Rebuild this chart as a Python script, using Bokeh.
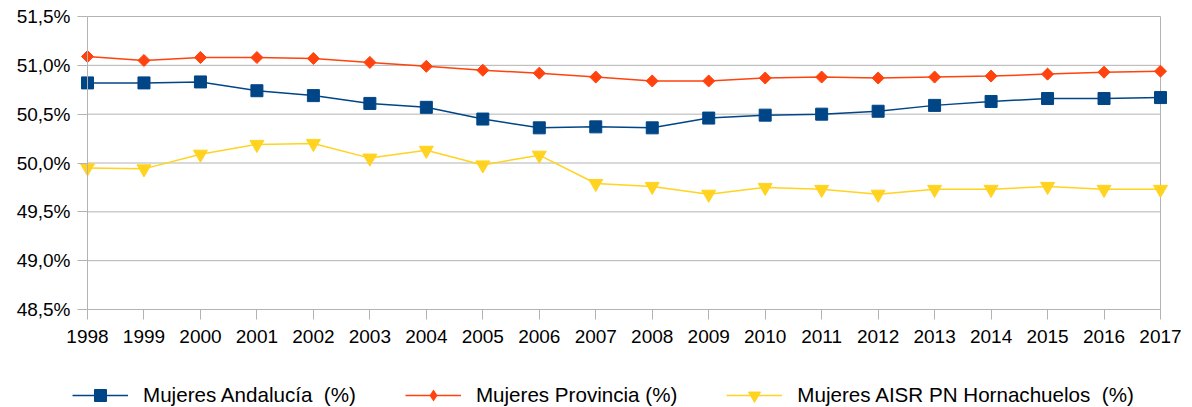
import math
from bokeh.plotting import figure
from bokeh.models import FixedTicker, Legend, LegendItem, Range1d
from bokeh.embed import file_html
from bokeh.resources import INLINE

years = list(range(1998, 2018))
andalucia = [50.82, 50.82, 50.83, 50.74, 50.69, 50.61, 50.57, 50.45, 50.36, 50.37,
             50.36, 50.46, 50.49, 50.50, 50.53, 50.59, 50.63, 50.66, 50.66, 50.67]
provincia = [51.09, 51.05, 51.08, 51.08, 51.07, 51.03, 50.99, 50.95, 50.92, 50.88,
             50.84, 50.84, 50.87, 50.88, 50.87, 50.88, 50.89, 50.91, 50.93, 50.94]
aisr = [49.95, 49.94, 50.09, 50.19, 50.20, 50.05, 50.13, 49.98, 50.08, 49.79,
        49.76, 49.68, 49.75, 49.73, 49.68, 49.73, 49.73, 49.76, 49.73, 49.73]
y_ticks = [48.5, 49.0, 49.5, 50.0, 50.5, 51.0, 51.5]
y_tick_labels = ["48,5%", "49,0%", "49,5%", "50,0%", "50,5%", "51,0%", "51,5%"]
series_names = ["Mujeres Andalucía  (%)", "Mujeres Provincia (%)", "Mujeres AISR PN Hornachuelos  (%)"]

FONT = "Liberation Sans"
GRID = "#b3b3b3"

# Layout (pixels): plot area spans x 87..1160, y 16..309 in a 1192x407 canvas
W, H = 1192, 407
PL, PR, PT, PB = 87, 1160, 16, 309
x0, x1 = years[0], years[-1]
y0, y1 = y_ticks[0], y_ticks[-1]
xppu = (PR - PL) / (x1 - x0)
yppu = (PB - PT) / (y1 - y0)
x_range = Range1d(x0 - PL / xppu, x1 + (W - PR) / xppu)
y_range = Range1d(y0 - (H - PB) / yppu, y1 + PT / yppu)

p = figure(width=W, height=H, output_backend="svg", toolbar_location=None,
           x_range=x_range, y_range=y_range, min_border=0,
           min_border_left=0, min_border_right=0, min_border_top=0, min_border_bottom=0)
p.outline_line_color = None
p.background_fill_color = "white"
p.border_fill_color = "white"
p.xgrid.grid_line_color = None
p.ygrid.grid_line_color = None

# horizontal grid lines and right border of the plot area
p.segment(x0=[x0] * len(y_ticks), x1=[x1] * len(y_ticks), y0=y_ticks, y1=y_ticks,
          line_color=GRID, line_width=1)
p.segment(x0=[x1], x1=[x1], y0=[y0], y1=[y1], line_color=GRID, line_width=1)

for ax in (p.xaxis[0], p.yaxis[0]):
    ax.axis_line_color = GRID
    ax.major_tick_line_color = GRID
    ax.minor_tick_line_color = None
    ax.major_tick_out = 10
    ax.major_tick_in = 0
    ax.major_label_text_font = FONT
    ax.major_label_text_font_size = "19px"
    ax.major_label_text_color = "#000000"

p.xaxis.ticker = FixedTicker(ticks=years)
p.xaxis.fixed_location = y0
p.xaxis.bounds = (x0, x1)
p.xaxis.major_label_standoff = 10
p.yaxis.ticker = FixedTicker(ticks=y_ticks)
p.yaxis.fixed_location = x0
p.yaxis.bounds = (y0, y1)
p.yaxis.major_label_overrides = {t: l for t, l in zip(y_ticks, y_tick_labels)}
p.yaxis.major_label_standoff = 7

c1, c2, c3 = "#004586", "#ff420e", "#ffd320"
l1 = p.line(years, andalucia, line_color=c1, line_width=1.5)
m1 = p.scatter(years, andalucia, marker="square", size=12, fill_color=c1, line_color=c1)
l2 = p.line(years, provincia, line_color=c2, line_width=1.5)
m2 = p.scatter(years, provincia, marker="square", size=8.5, angle=math.pi / 4,
               fill_color=c2, line_color=c2)
# zero-size diamond glyph used only for the legend entry (legend glyphs ignore marker angle)
m2_leg = p.scatter(years, provincia, marker="diamond", size=0, fill_color=c2, line_color=None)
l3 = p.line(years, aisr, line_color=c3, line_width=1.5)
m3 = p.scatter(years, aisr, marker="inverted_triangle", size=14, fill_color=c3, line_color=c3)

legend = Legend(items=[LegendItem(label=series_names[0], renderers=[l1, m1]),
                       LegendItem(label=series_names[1], renderers=[l2, m2_leg]),
                       LegendItem(label=series_names[2], renderers=[l3, m3])],
                orientation="horizontal", location=(72, -3), padding=0, margin=0,
                label_text_font=FONT, label_text_font_size="20.6px", label_text_color="#000000",
                glyph_width=56, glyph_height=30, label_standoff=15, spacing=49,
                border_line_color=None, background_fill_alpha=0)
p.add_layout(legend, "center")

open("out.html", "w").write(file_html(p, INLINE))
